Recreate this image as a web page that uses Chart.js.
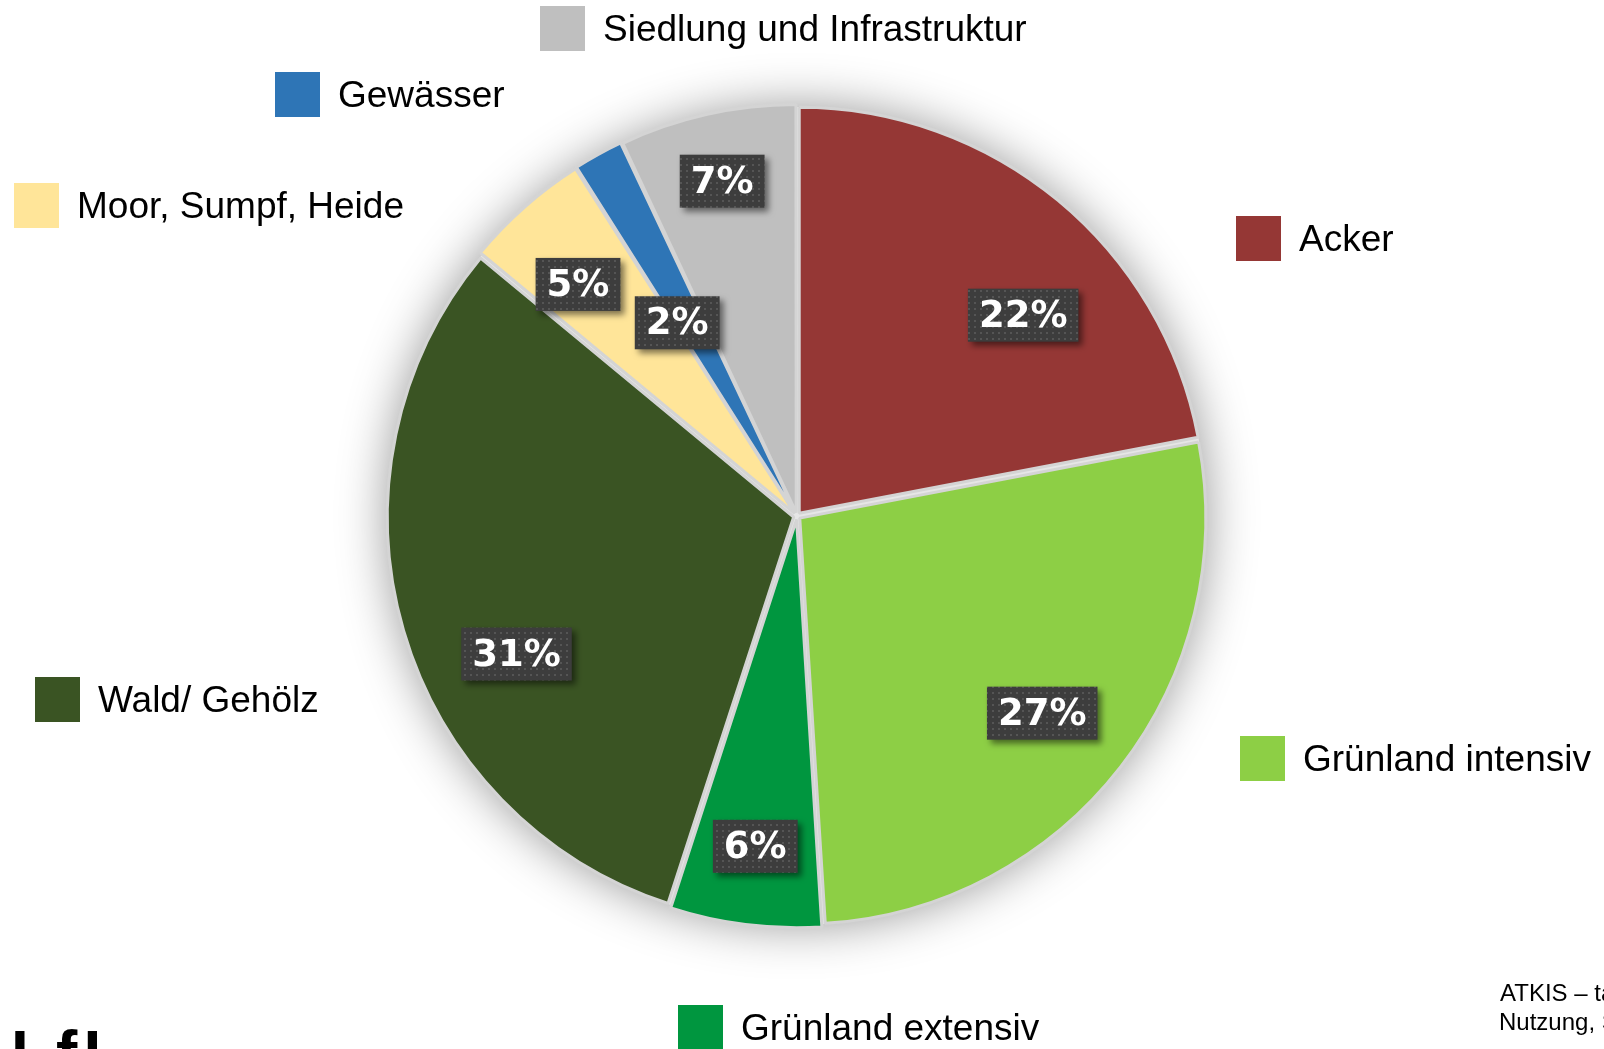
<!DOCTYPE html>
<html>
<head>
<meta charset="utf-8">
<script src="https://cdn.jsdelivr.net/npm/chart.js@4/dist/chart.umd.min.js"></script>
<style>
  body { margin: 0; background: #fff; }
  #page { position: relative; width: 1604px; height: 1049px; overflow: hidden; font-family: "Liberation Sans", Arial, sans-serif; }
  #myChart { position: absolute; left: 0; top: 0; }
  .leg { position: absolute; display: flex; align-items: center; white-space: nowrap; font-size: 37px; color: #000; }
  .leg span.sq { display: inline-block; width: 45px; height: 45px; margin-right: 18px; }
  .foot { position: absolute; white-space: nowrap; font-size: 24px; color: #000; }
  #logo { position: absolute; left: 11px; top: 1022px; font: bold 64px/64px "Liberation Sans", Arial, sans-serif; letter-spacing: 6px; }
</style>
</head>
<body>
<div id="page">
  <canvas id="myChart" width="1604" height="1049"></canvas>
  <div id="legend"></div>
  <div class="foot" style="left:1500px; top:979px;">ATKIS – tatsächliche</div>
  <div class="foot" style="left:1499px; top:1008px;">Nutzung, Stand</div>
  <div id="logo">LfL</div>
</div>
<script>
// Flächenanteile (in Prozent), im Uhrzeigersinn ab 12 Uhr
var categories = ['Acker', 'Grünland intensiv', 'Grünland extensiv', 'Wald/ Gehölz', 'Moor, Sumpf, Heide', 'Gewässer', 'Siedlung und Infrastruktur'];
var shares = [22, 27, 6, 31, 5, 2, 7];
var colors = ['#953735', '#8dcf45', '#00963f', '#3a5423', '#ffe599', '#2e75b6', '#bfbfbf'];

// Legendenplätze rund um die Torte [links, oben]
var legendPos = [[1236, 216], [1240, 736], [678, 1005], [35, 677], [14, 183], [275, 72], [540, 6]];
// Verschiebung der Beschriftungen: [Winkel in Grad, Anteil am Radius]
var labelNudge = [[8.8, 0.745], [1, 0.775], [0, 0.82], [-10, 0.77], [-2, 0.785], [-3, 0.56], [0, 0.845]];

var legendBox = document.getElementById('legend');
for (var i in categories) {
    var d = document.createElement('div');
    d.className = 'leg';
    d.style.left = legendPos[i][0] + 'px';
    d.style.top = legendPos[i][1] + 'px';
    d.innerHTML = '<span class="sq" style="background:' + colors[i] + '"></span>' + categories[i];
    legendBox.appendChild(d);
}

// Punktmuster für die Beschriftungskästen
var pat = document.createElement('canvas');
pat.width = 6; pat.height = 6;
var pc = pat.getContext('2d');
pc.fillStyle = '#3d3d3d';
pc.fillRect(0, 0, 6, 6);
pc.fillStyle = '#555555';
pc.fillRect(2, 2, 2, 2);

var pieShadow = {
    id: 'pieShadow',
    beforeDatasetsDraw: function(chart) {
        var arc = chart.getDatasetMeta(0).data[0];
        if (!arc) return;
        var ctx = chart.ctx;
        ctx.save();
        ctx.shadowColor = 'rgba(0,0,0,0.42)';
        ctx.shadowBlur = 50;
        ctx.fillStyle = '#e6e6e6';
        ctx.beginPath();
        ctx.arc(arc.x, arc.y, arc.outerRadius + 3, 0, Math.PI * 2);
        ctx.fill();
        ctx.restore();
    }
};

var boxLabels = {
    id: 'boxLabels',
    afterDatasetsDraw: function(chart) {
        var ctx = chart.ctx;
        var data = chart.data.datasets[0].data;
        var sum = data.reduce(function(a, b) { return a + b; }, 0);
        ctx.save();
        ctx.font = 'bold 37px "DejaVu Sans", Verdana, sans-serif';
        ctx.textAlign = 'center';
        ctx.textBaseline = 'middle';
        chart.getDatasetMeta(0).data.forEach(function(arc, i) {
            var txt = Math.round(data[i] / sum * 100) + '%';
            var a = (arc.startAngle + arc.endAngle) / 2 + labelNudge[i][0] * Math.PI / 180;
            var r = arc.outerRadius * labelNudge[i][1];
            var x = arc.x + Math.cos(a) * r;
            var y = arc.y + Math.sin(a) * r;
            var w = ctx.measureText(txt).width + 22;
            var h = 53;
            ctx.save();
            ctx.shadowColor = 'rgba(0,0,0,0.5)';
            ctx.shadowBlur = 6;
            ctx.shadowOffsetX = 4;
            ctx.shadowOffsetY = 4;
            ctx.fillStyle = ctx.createPattern(pat, 'repeat');
            ctx.fillRect(x - w / 2, y - h / 2, w, h);
            ctx.restore();
            ctx.fillStyle = '#ffffff';
            ctx.fillText(txt, x, y + 2);
        });
        ctx.restore();
    }
};

var ctx = document.getElementById('myChart');
var myChart = new Chart(ctx, {
    type: 'pie',
    data: {
        labels: categories,
        datasets: [{
            data: shares,
            backgroundColor: colors,
            borderColor: '#d4d4d4',
            borderWidth: 3,
            offset: 14,
            radius: 406
        }]
    },
    options: {
        responsive: false,
        animation: false,
        layout: { padding: { left: 0, right: 10, top: 0, bottom: 17 } },
        plugins: {
            legend: { display: false },
            tooltip: { enabled: false }
        }
    },
    plugins: [pieShadow, boxLabels]
}); // myChart
</script>
</body>
</html>
